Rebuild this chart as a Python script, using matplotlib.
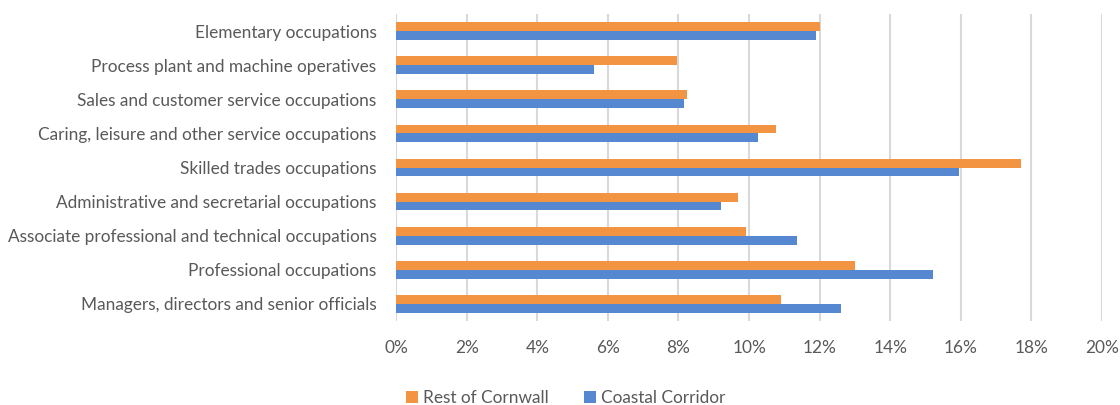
import matplotlib.pyplot as plt
import numpy as np
from matplotlib.ticker import PercentFormatter

# categories from bottom to top
categories = [
    'Managers, directors and senior officials',
    'Professional occupations',
    'Associate professional and technical occupations',
    'Administrative and secretarial occupations',
    'Skilled trades occupations',
    'Caring, leisure and other service occupations',
    'Sales and customer service occupations',
    'Process plant and machine operatives',
    'Elementary occupations',
]
rest_of_cornwall = [10.9, 13.0, 9.9, 9.7, 17.7, 10.75, 8.25, 7.95, 12.0]
coastal_corridor = [12.6, 15.2, 11.35, 9.2, 15.95, 10.25, 8.15, 5.6, 11.9]

plt.rcParams['font.family'] = ['Lato', 'DejaVu Sans']
text_color = '#595959'

fig = plt.figure(figsize=(11.2, 4.05), dpi=100)
ax = fig.add_axes([0.3536, 0.2074, 0.6304, 0.758])

y = np.arange(len(categories))
h = 0.26
ax.barh(y + h / 2, rest_of_cornwall, height=h, color='#F39442', label='Rest of Cornwall', zorder=3)
ax.barh(y - h / 2, coastal_corridor, height=h, color='#5588D1', label='Coastal Corridor', zorder=3)

ax.set_xlim(0, 20)
ax.set_ylim(-0.5, len(categories) - 0.5)
ax.set_xticks(np.arange(0, 21, 2))
ax.xaxis.set_major_formatter(PercentFormatter(decimals=0))
ax.set_yticks(y)
ax.set_yticklabels(categories)
ax.tick_params(length=0, colors=text_color, labelsize=12.4)
ax.tick_params(axis='x', pad=14)
ax.tick_params(axis='y', pad=14)
ax.grid(axis='x', color='#D9D9D9', linewidth=1.5, zorder=0)
for s in ax.spines.values():
    s.set_visible(False)

fig.legend(loc='lower center', bbox_to_anchor=(0.505, -0.04), ncol=2, frameon=False,
           fontsize=12.4, labelcolor=text_color, handlelength=0.7, handleheight=0.7,
           handletextpad=0.3, columnspacing=2.0)

fig.savefig('out.png', dpi=100)
